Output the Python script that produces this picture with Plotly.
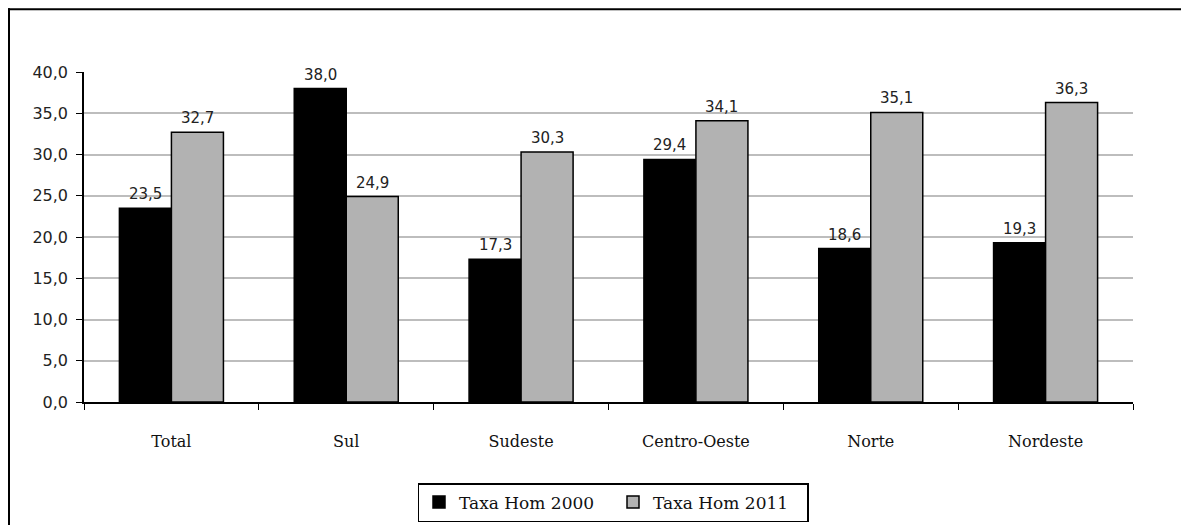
import plotly.graph_objects as go

categories = ["Total", "Sul", "Sudeste", "Centro-Oeste", "Norte", "Nordeste"]
taxa_2000 = [23.5, 38.0, 17.3, 29.4, 18.6, 19.3]
taxa_2011 = [32.7, 24.9, 30.3, 34.1, 35.1, 36.3]
series_names = ["Taxa Hom 2000", "Taxa Hom 2011"]
y_ticks = [0, 5, 10, 15, 20, 25, 30, 35, 40]

# page has an 8px body margin
W, H = 1189, 525
L, R, T, B = 76, 64, 64, 130
pw = W - L - R
ph = H - T - B


def px(fx):
    return (fx - L) / pw


def py(fy):
    return (H - B - fy) / ph


def fmt(v):
    return f"{v:.1f}".replace(".", ",")


fig = go.Figure()
fig.add_trace(go.Bar(
    x=categories, y=taxa_2000, name=series_names[0],
    marker=dict(color="#000000", line=dict(color="#000000", width=1.5)),
))
fig.add_trace(go.Bar(
    x=categories, y=taxa_2011, name=series_names[1],
    marker=dict(color="#b2b2b2", line=dict(color="#000000", width=1.5)),
))

half = pw / len(categories) * (1 - 0.405) / 4
for vals, sh in ((taxa_2000, -half), (taxa_2011, half)):
    for c, v in zip(categories, vals):
        fig.add_annotation(x=c, y=v, text=fmt(v), showarrow=False,
                           xshift=sh, yshift=3, yanchor="bottom",
                           font=dict(family="DejaVu Sans", size=15, color="#222"))

# outer frame: top and left edges (right/bottom fall outside the view)
fig.add_shape(type="line", xref="paper", yref="paper",
              x0=px(0), x1=px(1300), y0=py(1), y1=py(1),
              line=dict(color="#000", width=2), layer="below")
fig.add_shape(type="line", xref="paper", yref="paper",
              x0=px(1), x1=px(1), y0=py(0), y1=py(600),
              line=dict(color="#000", width=2), layer="below")

fig.update_layout(
    width=W, height=H,
    margin=dict(l=L, r=R, t=T, b=B, pad=0),
    paper_bgcolor="white", plot_bgcolor="white",
    separators=",.",
    barmode="group", bargap=0.405, bargroupgap=0.0,
    showlegend=True,
    legend=dict(orientation="h", x=px(605), xanchor="center", y=py(475), yanchor="top",
                bordercolor="#000", borderwidth=1.5,
                font=dict(family="DejaVu Serif", size=17, color="#111"),
                entrywidth=149, entrywidthmode="pixels",
                itemwidth=30, tracegroupgap=0),
    xaxis=dict(showline=True, linecolor="#000", linewidth=1.5,
               ticks="outside", tickson="boundaries", ticklen=6, tickcolor="#000",
               tickfont=dict(family="DejaVu Serif", size=16, color="#111"),
               ticklabelstandoff=24,
               showgrid=False),
    yaxis=dict(range=[0, 40], tickvals=y_ticks, tickformat=".1f",
               showline=True, linecolor="#000", linewidth=1.5,
               ticks="outside", ticklen=6, tickcolor="#000",
               tickfont=dict(family="DejaVu Sans", size=16, color="#222"),
               ticklabelstandoff=5,
               showgrid=True, gridcolor="#bdbdbd", gridwidth=1.5,
               zeroline=False),
)

fig.write_html("out.html")
